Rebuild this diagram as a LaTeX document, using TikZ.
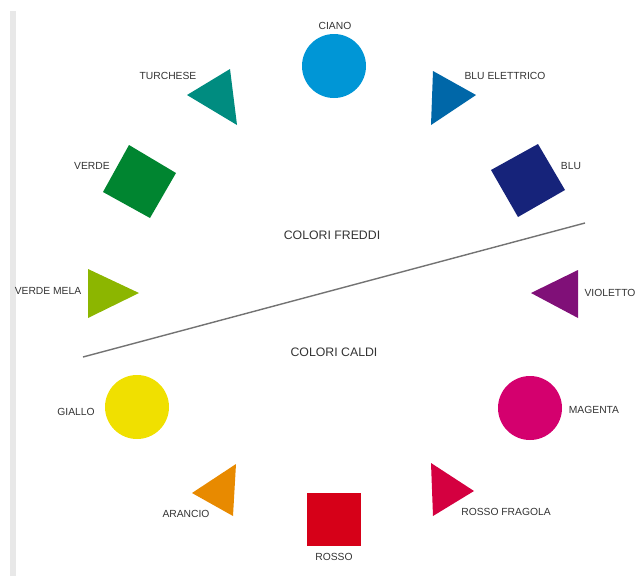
\documentclass[tikz,border=0pt]{standalone}
\usepackage{fontspec}
\setmainfont{Liberation Sans}
\definecolor{ciano}{RGB}{0,150,214}
\definecolor{turchese}{RGB}{0,140,128}
\definecolor{bluelettrico}{RGB}{0,103,168}
\definecolor{blu}{RGB}{22,35,122}
\definecolor{verde}{RGB}{0,133,48}
\definecolor{verdemela}{RGB}{140,182,0}
\definecolor{violetto}{RGB}{128,16,120}
\definecolor{giallo}{RGB}{240,224,0}
\definecolor{arancio}{RGB}{232,138,0}
\definecolor{rosso}{RGB}{214,0,24}
\definecolor{magenta}{RGB}{212,0,110}
\definecolor{rossofragola}{RGB}{212,0,64}
\definecolor{labelgray}{RGB}{51,51,51}
\definecolor{bargray}{RGB}{232,232,232}

\begin{document}
\begin{tikzpicture}[x=0.03cm, y=-0.03cm,
    colname/.style={text=labelgray, font=\fontsize{8.8}{10}\selectfont, inner sep=0pt},
    groupname/.style={text=labelgray, font=\fontsize{10.5}{12}\selectfont, inner sep=0pt},
    divider/.style={draw=gray!90!black, line width=1.2pt}]
    \useasboundingbox (0,0) rectangle (637,576);

    % Side bar
    \fill[bargray] (10,11) rectangle (16,576);

    % Circles
    \fill[ciano] (334,66) circle (0.96cm);
    \fill[giallo] (137,407) circle (0.96cm);
    \fill[magenta] (530,408) circle (0.96cm);

    % Squares
    \fill[blu] (491,170) -- (538,144) -- (565,190) -- (518,217) -- cycle;
    \fill[verde] (103,192) -- (129,145) -- (176,173) -- (150,218) -- cycle;
    \fill[rosso] (307,493) rectangle (361,546);

    % Triangles
    \fill[turchese] (187,95) -- (230,69) -- (237,125) -- cycle;
    \fill[bluelettrico] (433,71) -- (476,95) -- (431,125) -- cycle;
    \fill[verdemela] (88,269) -- (139,293) -- (88,318) -- cycle;
    \fill[violetto] (578,270) -- (531,293) -- (578,318) -- cycle;
    \fill[arancio] (192,493) -- (236,464) -- (233,516) -- cycle;
    \fill[rossofragola] (431,463) -- (474,491) -- (433,516) -- cycle;

    % Colour names
    \node[colname] (ciano) at (335,26) {CIANO};
    \node[colname] (turchese) at (168,76) {TURCHESE};
    \node[colname] (bluelettrico) at (505,76) {BLU ELETTRICO};
    \node[colname] (verde) at (92,166) {VERDE};
    \node[colname] (blu) at (571,166) {BLU};
    \node[colname] (verdemela) at (48,291) {VERDE MELA};
    \node[colname] (violetto) at (610,293) {VIOLETTO};
    \node[colname] (giallo) at (76,412) {GIALLO};
    \node[colname] (magenta) at (594,410) {MAGENTA};
    \node[colname] (arancio) at (186,514) {ARANCIO};
    \node[colname] (rossofragola) at (506,512) {ROSSO FRAGOLA};
    \node[colname] (rosso) at (334,557) {ROSSO};

    % Cold / warm split
    \coordinate (warmend) at (83,357);
    \coordinate (coolend) at (585,223);
    \draw[divider] (warmend) -- (coolend);
    \node[groupname] (freddi) at (332,235) {COLORI FREDDI};
    \node[groupname] (caldi) at (334,352) {COLORI CALDI};
\end{tikzpicture}
\end{document}
